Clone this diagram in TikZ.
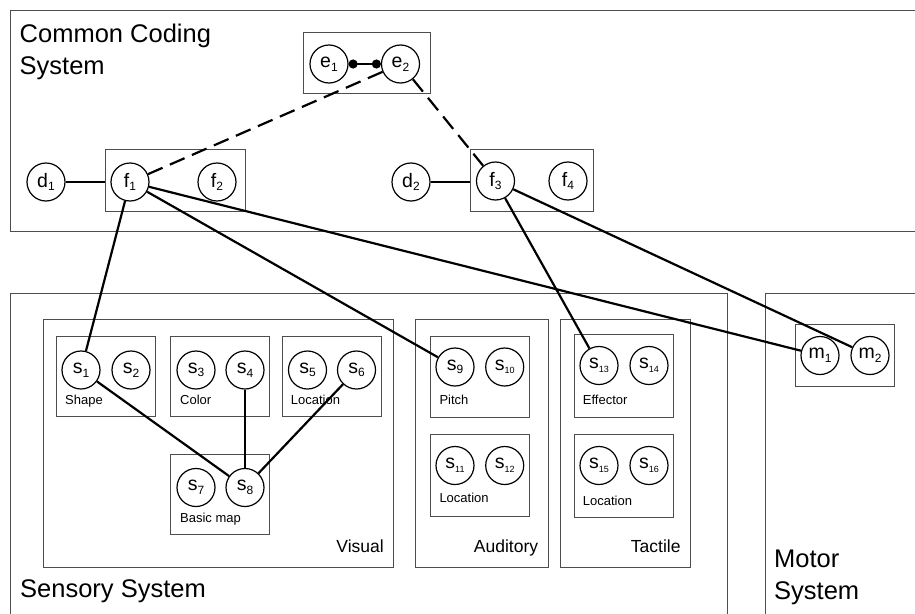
\documentclass[tikz,border=0pt]{standalone}
\usepackage{fontspec}
\setmainfont{Liberation Sans}
\usepackage{tikz}
\usetikzlibrary{arrows.meta,fit}
\definecolor{border}{HTML}{4D4D4D}
\definecolor{ink}{HTML}{000000}
\newcommand{\nm}[3][12]{#2\raisebox{-0.35ex}{\fontsize{#1}{#1}\selectfont #3}}
\tikzset{
  sysbox/.style={draw=border, line width=1pt},
  grpbox/.style={draw=border, line width=1pt, inner sep=0pt},
  unit/.style={draw=ink, circle, line width=1.2pt, minimum size=38pt, inner sep=0pt,
    font=\fontsize{19.5}{19.5}\selectfont},
  conn/.style={draw=ink, line width=2.2pt},
  weak/.style={conn, dash pattern=on 16pt off 8pt},
  title/.style={font=\fontsize{25.5}{32}\selectfont, align=left, inner sep=0pt},
  mod/.style={font=\fontsize{17.5}{20}\selectfont, inner sep=0pt, anchor=base east},
  feat/.style={font=\fontsize{13}{15}\selectfont, inner sep=0pt, anchor=base west}
}

\begin{document}
\begin{tikzpicture}[x=1pt, y=-1pt]
  \useasboundingbox (0,0) rectangle (915,613);
  \clip (0,0) rectangle (915,613);

  % systems
  \draw[sysbox] (10,10) rectangle (930,231);
  \draw[sysbox] (10,293) rectangle (727,630);
  \draw[sysbox] (765,293) rectangle (930,630);
  \node[title, anchor=north west] (cctitle) at (19.5,23.5) {Common Coding\\System};
  \node[title, anchor=base west] (sstitle) at (20,597) {Sensory System};
  \node[title, anchor=north west] (mstitle) at (774,550) {Motor\\System};

  % modalities
  \draw[sysbox] (43.3,319.3) rectangle (393.3,567.3);
  \draw[sysbox] (415,319.3) rectangle (548.3,567.3);
  \draw[sysbox] (560.7,319.3) rectangle (690.7,567.3);
  \node[mod] (visual) at (384,552.7) {Visual};
  \node[mod] (auditory) at (538.3,552.7) {Auditory};
  \node[mod] (tactile) at (680.7,552.7) {Tactile};

  % feature boxes
  \node[grpbox, fit={(303,32) (430,93)}] (eb) {};
  \node[grpbox, fit={(105.7,149) (245,211)}] (fb1) {};
  \node[grpbox, fit={(470,149) (593.3,211)}] (fb2) {};
  \node[grpbox, fit={(56,336.7) (155,416.7)}] (shape) {};
  \node[grpbox, fit={(170.7,336.7) (269.3,416.7)}] (color) {};
  \node[grpbox, fit={(282.3,336.7) (381,416.7)}] (vloc) {};
  \node[grpbox, fit={(170.7,454.3) (269.3,534)}] (basic) {};
  \node[grpbox, fit={(430,336) (529.3,417.3)}] (pitch) {};
  \node[grpbox, fit={(430,434.3) (529.3,516)}] (aloc) {};
  \node[grpbox, fit={(574.3,334.3) (673.3,417.3)}] (effector) {};
  \node[grpbox, fit={(574.3,434.3) (673.3,517.7)}] (tloc) {};
  \node[grpbox, fit={(795.7,324) (894.7,386)}] (mb) {};

  \node[feat] (shapelab) at (65,404) {Shape};
  \node[feat] (colorlab) at (180,404) {Color};
  \node[feat] (vloclab) at (290.7,404) {Location};
  \node[feat] (basiclab) at (180,522.7) {Basic map};
  \node[feat] (pitchlab) at (439.3,404) {Pitch};
  \node[feat] (aloclab) at (439.3,502.7) {Location};
  \node[feat] (efflab) at (582.7,404) {Effector};
  \node[feat] (tloclab) at (582.7,505) {Location};

  % units
  \node[unit] (e1) at (329,64) {\nm{e}{1}};
  \node[unit] (e2) at (400.5,64) {\nm{e}{2}};
  \node[unit] (d1) at (46,182) {\nm{d}{1}};
  \node[unit] (f1) at (130,182) {\nm{f}{1}};
  \node[unit] (f2) at (217,182) {\nm{f}{2}};
  \node[unit] (d2) at (411,182) {\nm{d}{2}};
  \node[unit] (f3) at (495.5,181) {\nm{f}{3}};
  \node[unit] (f4) at (568,181) {\nm{f}{4}};

  \node[unit] (s1) at (81,370) {\nm{s}{1}};
  \node[unit] (s2) at (131,370) {\nm{s}{2}};
  \node[unit] (s3) at (196,370) {\nm{s}{3}};
  \node[unit] (s4) at (245,370) {\nm{s}{4}};
  \node[unit] (s5) at (307.5,370) {\nm{s}{5}};
  \node[unit] (s6) at (356.5,370) {\nm{s}{6}};
  \node[unit] (s7) at (196,487.5) {\nm{s}{7}};
  \node[unit] (s8) at (245,487.5) {\nm{s}{8}};
  \node[unit] (s9) at (455,367) {\nm{s}{9}};
  \node[unit] (s10) at (504.7,367) {\nm[9]{s}{10}};
  \node[unit] (s11) at (455,465.5) {\nm[9]{s}{11}};
  \node[unit] (s12) at (504.7,465.5) {\nm[9]{s}{12}};
  \node[unit] (s13) at (599,365.5) {\nm[9]{s}{13}};
  \node[unit] (s14) at (649,365.5) {\nm[9]{s}{14}};
  \node[unit] (s15) at (599,465.5) {\nm[9]{s}{15}};
  \node[unit] (s16) at (649,465.5) {\nm[9]{s}{16}};
  \node[unit] (m1) at (820,355.5) {\nm{m}{1}};
  \node[unit] (m2) at (870,355.5) {\nm{m}{2}};

  % links
  \draw[conn, {Circle[length=9pt]}-{Circle[length=9pt]}] (e1) -- (e2);
  \draw[weak] (e2) -- (f1);
  \draw[weak] (e2) -- (f3);
  \draw[conn] (d1) -- (fb1.west |- d1);
  \draw[conn] (d2) -- (fb2.west |- d2);
  \draw[conn] (f1) -- (s1);
  \draw[conn] (f1) -- (s9);
  \draw[conn] (f1) -- (m1);
  \draw[conn] (f3) -- (s13);
  \draw[conn] (f3) -- (m2);
  \draw[conn] (s1) -- (s8);
  \draw[conn] (s4) -- (s8);
  \draw[conn] (s6) -- (s8);
\end{tikzpicture}
\end{document}
